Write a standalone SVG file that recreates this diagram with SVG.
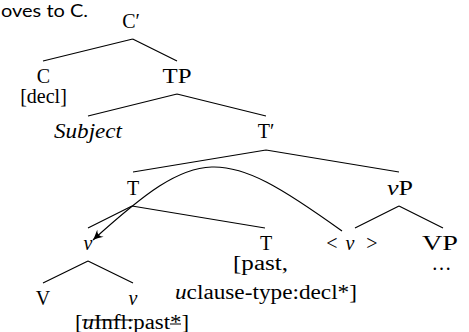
<svg xmlns="http://www.w3.org/2000/svg" width="469" height="332" viewBox="0 0 469 332" font-family="Liberation Serif, DejaVu Serif, serif">
<style>
.t{font-family:'Liberation Serif','DejaVu Serif',serif;font-size:20px;fill:#000;text-anchor:middle}
.it{font-style:italic}
.cap{font-family:Lato,'Open Sans',sans-serif;font-size:17px;fill:#000;text-anchor:start}
.e{stroke:#000;stroke-width:1.2;fill:none}
</style>
<defs>
<marker id="ah" markerUnits="userSpaceOnUse" markerWidth="14" markerHeight="12" viewBox="-11 -6 12 12" refX="0" refY="0" orient="auto">
<path d="M0,0 Q-4,-1.6 -10,-4.8 Q-5.5,0 -10,4.8 Q-4,1.6 0,0 Z" fill="#000"/>
</marker>
</defs>
<rect width="469" height="332" fill="#fff"/>
<text class="cap" x="1" y="17" textLength="87" lengthAdjust="spacingAndGlyphs">oves to C.</text>
<g id="connectors">
<path class="e" d="M132.7,39 L43,61 M132.7,39 L177,61"/>
<path class="e" d="M177,94 L88,116 M177,94 L266,116"/>
<path class="e" d="M266,150 L133,172 M266,150 L399,172"/>
<path class="e" d="M399,206 L355,228 M399,206 L443,228"/>
<path class="e" d="M132,206 L88,228 M132,206 L265,228"/>
<path class="e" d="M88,261 L43,283 M88,261 L133,283"/>
<path class="e" d="M342,231 C220.7,143.8 198.8,144.6 93,240" marker-end="url(#ah)"/>
</g>
<g id="n-Cbar"><text class="t" x="131" y="28">C′</text></g>
<g id="n-C"><text class="t" x="43.5" y="83">C</text><text class="t" x="43.5" y="103">[decl]</text></g>
<g id="n-TP"><text class="t" x="177" y="83" textLength="29" lengthAdjust="spacingAndGlyphs">TP</text></g>
<g id="n-Subject"><text class="t it" x="88" y="138" textLength="68" lengthAdjust="spacingAndGlyphs">Subject</text></g>
<g id="n-Tbar"><text class="t" x="266" y="138">T′</text></g>
<g id="n-T1"><text class="t" x="133" y="195">T</text></g>
<g id="n-vP"><text class="t" x="400" y="195" textLength="26" lengthAdjust="spacingAndGlyphs"><tspan class="it">v</tspan>P</text></g>
<g id="n-v1"><text class="t it" x="88" y="250">v</text></g>
<g id="n-T2"><text class="t" x="266" y="250">T</text><text class="t" x="260.5" y="270" textLength="55" lengthAdjust="spacingAndGlyphs">[past,</text><text class="t" x="266" y="299" textLength="182" lengthAdjust="spacingAndGlyphs"><tspan class="it">u</tspan>clause-type:decl*]</text></g>
<g id="n-vtrace"><text class="t" x="332" y="250">&lt;</text><text class="t it" x="350" y="250">v</text><text class="t" x="372" y="250">&gt;</text></g>
<g id="n-VP"><text class="t" x="440" y="250" textLength="36" lengthAdjust="spacingAndGlyphs">VP</text><text class="t" x="441.5" y="270">…</text></g>
<g id="n-V"><text class="t" x="43" y="305">V</text></g>
<g id="n-v2"><text class="t it" x="133" y="305">v</text>
<text class="t" x="132" y="329" textLength="114" lengthAdjust="spacingAndGlyphs">[<tspan class="it">u</tspan>Infl:past*]</text>
<path class="e" d="M82,320 L133,320 M170,324 L181,324"/></g>
</svg>
